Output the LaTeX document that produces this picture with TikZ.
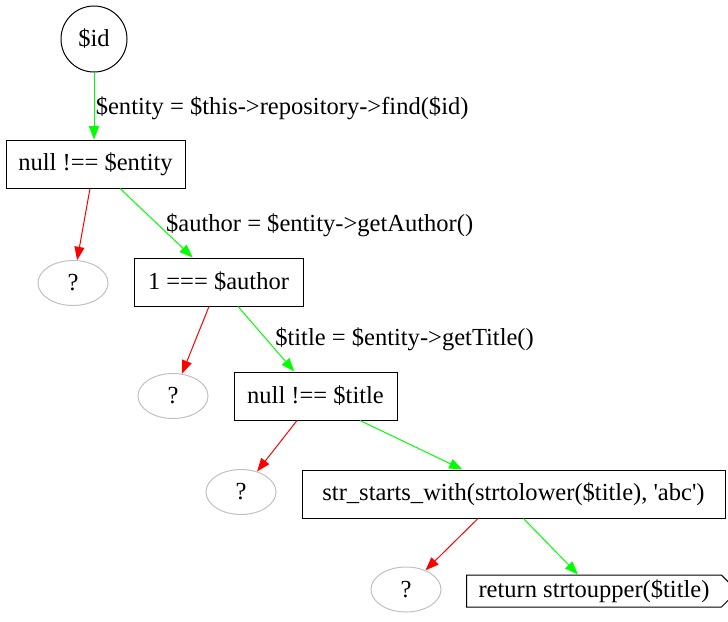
\documentclass[tikz,border=0pt]{standalone}
\usepackage{fontspec}
\setmainfont{Liberation Serif}
\usepackage{xcolor}
\usetikzlibrary{arrows.meta,shapes.geometric,shapes.symbols}

\definecolor{yesgreen}{RGB}{0,255,0}
\definecolor{nored}{RGB}{255,0,0}
\definecolor{unkgray}{RGB}{192,192,192}

\begin{document}
\begin{tikzpicture}[
  x=0.75pt, y=-0.75pt,
  every node/.style={font=\fontsize{18.4}{22}\selectfont},
  var/.style={draw, circle, line width=0.75pt, minimum size=49.5pt, inner sep=0pt},
  cond/.style={draw, rectangle, line width=0.75pt, minimum height=36pt,
               inner xsep=8pt, inner ysep=0pt},
  unknown/.style={draw=unkgray, ellipse, line width=0.75pt,
                  minimum width=52.5pt, minimum height=33.75pt, inner sep=0pt},
  ret/.style={draw, signal, signal to=east, signal from=nowhere,
              line width=0.75pt, minimum height=24pt, minimum width=192pt,
              inner xsep=9pt, inner ysep=1pt},
  yes/.style={draw=yesgreen, line width=0.75pt, -{Triangle[length=10pt,width=7.5pt]}},
  no/.style={draw=nored, line width=0.75pt, -{Triangle[length=10pt,width=7.5pt]}},
  lbl/.style={inner sep=1pt, anchor=west},
]
  \useasboundingbox (0,0) rectangle (728,621);

  \node[var] (id) at (94,39) {\$id};
  \node[cond, minimum width=134.25pt] (entity) at (95.5,164) {null !== \$entity};
  \node[unknown] (u1) at (73,283) {?};
  \node[cond, minimum width=126.75pt] (author) at (218.5,282) {1 === \$author};
  \node[unknown] (u2) at (173,396) {?};
  \node[cond, minimum width=122.25pt] (title) at (315.5,396) {null !== \$title};
  \node[unknown] (u3) at (241,492) {?};
  \node[cond, minimum width=317.25pt] (starts) at (513.5,494)
    {str\_starts\_with(strtolower(\$title), \textquotesingle abc\textquotesingle)};
  \node[unknown] (u4) at (406,589.5) {?};
  \node[ret, anchor=west] (upper) at (466,591) {return strtoupper(\$title)};

  \draw[yes] (id) -- node[lbl, midway, yshift=-2pt]
    {\$entity = \$this->repository->find(\$id)} (id |- entity.north);
  \draw[no] ([shift={(-5.5,0)}]entity.south) -- (u1);
  \draw[yes] ([shift={(24.5,0)}]entity.south) -- node[lbl, midway, xshift=6pt, yshift=-1.5pt]
    {\$author = \$entity->getAuthor()} (author);
  \draw[no] ([shift={(-9.5,0)}]author.south) -- (u2);
  \draw[yes] ([shift={(19.5,0)}]author.south) -- node[lbl, midway, xshift=5.5pt, yshift=-0.5pt]
    {\$title = \$entity->getTitle()} (title);
  \draw[no] ([shift={(-18.5,0)}]title.south) -- (u3);
  \draw[yes] ([shift={(44.5,0)}]title.south) -- (starts);
  \draw[no] ([shift={(-35.5,0)}]starts.south) -- (u4);
  \draw[yes] ([shift={(10,0)}]starts.south) -- (upper);
\end{tikzpicture}
\end{document}
